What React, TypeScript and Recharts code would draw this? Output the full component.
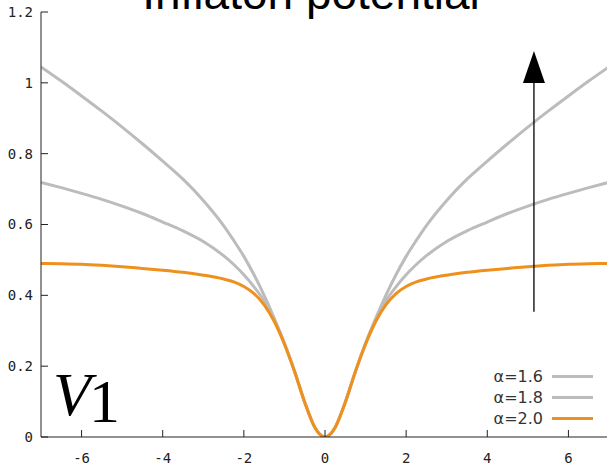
import React from 'react';
import { LineChart, Line, XAxis, YAxis, ReferenceLine } from 'recharts';

// Field values (phi) and potential V1 for each alpha
const phi = [
  -7, -6.5, -6, -5.5, -5, -4.5, -4, -3.5, -3, -2.5, -2.25, -2, -1.75, -1.5, -1.25, -1, -0.75, -0.5, -0.25,
  0, 0.25, 0.5, 0.75, 1, 1.25, 1.5, 1.75, 2, 2.25, 2.5, 3, 3.5, 4, 4.5, 5, 5.5, 6, 6.5, 7,
];
const v16 = [
  1.045, 1.005, 0.963, 0.92, 0.875, 0.828, 0.779, 0.728, 0.668, 0.597, 0.555, 0.51, 0.458, 0.4, 0.335, 0.265, 0.185, 0.098, 0.027,
  0, 0.027, 0.098, 0.185, 0.265, 0.335, 0.4, 0.458, 0.51, 0.555, 0.597, 0.668, 0.728, 0.779, 0.828, 0.875, 0.92, 0.963, 1.005, 1.045,
];
const v18 = [
  0.719, 0.704, 0.688, 0.671, 0.652, 0.631, 0.607, 0.582, 0.552, 0.512, 0.487, 0.458, 0.424, 0.384, 0.33, 0.264, 0.185, 0.098, 0.027,
  0, 0.027, 0.098, 0.185, 0.264, 0.33, 0.384, 0.424, 0.458, 0.487, 0.512, 0.552, 0.582, 0.607, 0.631, 0.652, 0.671, 0.688, 0.704, 0.719,
];
const v20 = [
  0.49, 0.489, 0.488, 0.485, 0.481, 0.476, 0.471, 0.465, 0.457, 0.446, 0.438, 0.425, 0.405, 0.373, 0.326, 0.262, 0.185, 0.098, 0.027,
  0, 0.027, 0.098, 0.185, 0.262, 0.326, 0.373, 0.405, 0.425, 0.438, 0.446, 0.457, 0.465, 0.471, 0.476, 0.481, 0.485, 0.488, 0.489, 0.49,
];

const xTicks = [-6, -4, -2, 0, 2, 4, 6];
const yTicks = [0, 0.2, 0.4, 0.6, 0.8, 1, 1.2];

const seriesKeys = ['a16', 'a18', 'a20'];
const seriesNames = ['α=1.6', 'α=1.8', 'α=2.0'];
const seriesColors = ['#bcbcbc', '#bcbcbc', '#f0901c'];

// Arrow showing the growth of the plateau with decreasing alpha
const arrowX = 5.15;
const arrowFrom = 0.354;
const arrowTo = 1.09;

const title = 'Inflaton potential';

const data = phi.map((x, i) => ({ x, a16: v16[i], a18: v18[i], a20: v20[i] }));

const axisColor = '#222';
const tickFont = { fontFamily: '"DejaVu Sans Mono", monospace', fontSize: 14, fill: '#222' };

const Arrow = (props: any) => {
  const { x1, y1, x2, y2 } = props;
  const headLen = 32;
  const headHalf = 11;
  return (
    <g>
      <line x1={x1} y1={y1} x2={x2} y2={y2 + headLen} stroke="#000" strokeWidth={1.3} />
      <polygon
        points={`${x2},${y2} ${x2 - headHalf},${y2 + headLen} ${x2 + headHalf},${y2 + headLen}`}
        fill="#000"
      />
    </g>
  );
};

export default function App() {
  return (
    <div style={{ position: 'absolute', left: 0, top: 0, width: 607, height: 470, overflow: 'hidden', background: '#fff' }}>
      <LineChart
        width={620}
        height={470}
        data={data}
        margin={{ top: 12, right: 11, bottom: 0, left: 0 }}
      >
        <XAxis
          dataKey="x"
          type="number"
          domain={[-7, 7]}
          ticks={xTicks}
          allowDataOverflow
          height={33}
          tickSize={-7}
          tickMargin={23}
          stroke={axisColor}
          tick={tickFont}
          tickFormatter={(v: number) => String(v)}
        />
        <XAxis
          xAxisId="top"
          orientation="top"
          dataKey="x"
          type="number"
          domain={[-7, 7]}
          ticks={xTicks}
          height={0}
          tickSize={-7}
          stroke={axisColor}
          tickFormatter={() => ''}
        />
        <YAxis
          type="number"
          domain={[0, 1.2]}
          ticks={yTicks}
          allowDataOverflow
          width={41}
          tickSize={-7}
          tickMargin={15}
          stroke={axisColor}
          tick={tickFont}
          tickFormatter={(v: number) => String(v)}
        />
        <YAxis
          yAxisId="right"
          orientation="right"
          type="number"
          domain={[0, 1.2]}
          ticks={yTicks}
          width={0}
          tickSize={-7}
          stroke={axisColor}
          tickFormatter={() => ''}
        />
        {seriesKeys.map((k, i) => (
          <Line
            key={k}
            dataKey={k}
            name={seriesNames[i]}
            type="monotone"
            stroke={seriesColors[i]}
            strokeWidth={3}
            dot={false}
            isAnimationActive={false}
          />
        ))}
        <ReferenceLine
          segment={[
            { x: arrowX, y: arrowFrom },
            { x: arrowX, y: arrowTo },
          ]}
          shape={Arrow}
        />
      </LineChart>
      <svg
        width={607}
        height={470}
        style={{ position: 'absolute', left: 0, top: 0, pointerEvents: 'none' }}
      >
        <text
          x={311}
          y={9}
          textAnchor="middle"
          fontFamily='"Liberation Sans", Arial, sans-serif'
          fontSize={46}
          fill="#000"
        >
          {title}
        </text>
        <text fontFamily='"Liberation Serif", "Times New Roman", serif' fontSize={62} fill="#000">
          <tspan x={53} y={415} fontStyle="italic">V</tspan>
          <tspan x={89} y={422}>1</tspan>
        </text>
        {seriesNames.map((name, i) => (
          <g key={name}>
            <text
              x={543}
              y={376.5 + i * 21}
              dy="0.36em"
              textAnchor="end"
              fontFamily='"DejaVu Sans", sans-serif'
              fontSize={16}
              fill="#333"
            >
              {name}
            </text>
            <line
              x1={552}
              x2={593}
              y1={376.5 + i * 21}
              y2={376.5 + i * 21}
              stroke={seriesColors[i]}
              strokeWidth={3}
            />
          </g>
        ))}
      </svg>
    </div>
  );
}
